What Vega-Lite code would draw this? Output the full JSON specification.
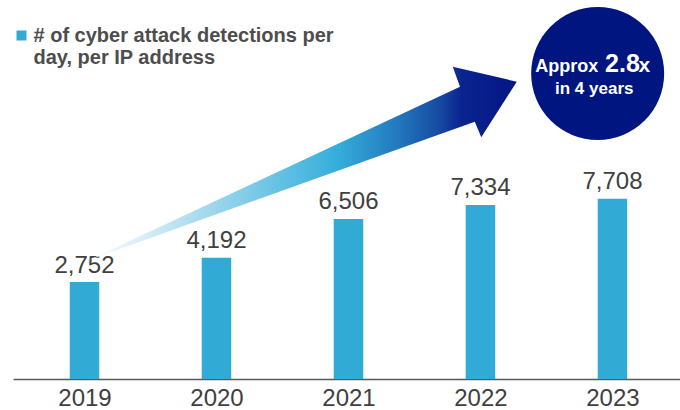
{
  "$schema": "https://vega.github.io/schema/vega-lite/v6.json",
  "width": 667,
  "height": 379,
  "autosize": {"type": "none"},
  "padding": {"left": 13, "top": 0, "right": 0, "bottom": 31},
  "background": "white",
  "config": {"view": {"stroke": null}, "font": "Liberation Sans"},
  "datasets": {
    "bars": [
      {"year": 2019, "value": 2752, "series": "# of cyber attack detections per day, per IP address"},
      {"year": 2020, "value": 4192, "series": "# of cyber attack detections per day, per IP address"},
      {"year": 2021, "value": 6506, "series": "# of cyber attack detections per day, per IP address"},
      {"year": 2022, "value": 7334, "series": "# of cyber attack detections per day, per IP address"},
      {"year": 2023, "value": 7708, "series": "# of cyber attack detections per day, per IP address"}
    ],
    "arrow": [
      {"i": 1, "year": 2019.034, "value": 4065},
      {"i": 2, "year": 2021.845, "value": 14354},
      {"i": 3, "year": 2021.790, "value": 15541},
      {"i": 4, "year": 2022.275, "value": 14651},
      {"i": 5, "year": 2022.006, "value": 11350},
      {"i": 6, "year": 2021.957, "value": 12276}
    ],
    "badge": [{"year": 2022.888, "value": 15137}],
    "badgeText": [
      {"t": "Approx", "year": 2022.892, "value": 15197},
      {"t": "2.8", "year": 2022.944, "value": 15197},
      {"t": "x", "year": 2023.198, "value": 15197},
      {"t": "in 4 years", "year": 2022.862, "value": 13920}
    ]
  },
  "encoding": {
    "x": {
      "field": "year", "type": "quantitative",
      "scale": {"domain": [2018.4963, 2023.4739], "nice": false, "zero": false},
      "axis": {
        "title": null, "values": [2019, 2020, 2021, 2022, 2023], "format": "d",
        "labelAngle": 0, "ticks": false, "tickSize": 0, "grid": false,
        "labelPadding": 7, "labelFontSize": 24, "labelFont": "Liberation Sans",
        "labelColor": "#404040", "domainColor": "#595959", "domainWidth": 1.5,
        "labelFlush": false, "labelOverlap": false
      }
    },
    "y": {
      "field": "value", "type": "quantitative",
      "scale": {"domain": [-3000, 19500], "nice": false, "zero": false},
      "axis": null
    }
  },
  "layer": [
    {
      "data": {"name": "bars"},
      "mark": {"type": "bar", "width": 29.5},
      "encoding": {
        "y2": {"datum": -3000},
        "color": {
          "field": "series", "type": "nominal",
          "scale": {"range": ["#31abd6"]},
          "legend": {
            "orient": "none", "legendX": -1.5, "legendY": 25.5, "title": null,
            "symbolType": "square", "symbolSize": 100, "symbolStrokeWidth": 0,
            "labelFont": "Liberation Sans", "labelFontSize": 20, "labelFontWeight": "bold",
            "labelColor": "#4d4d4d", "labelLimit": 600, "labelOffset": 2,
            "labelBaseline": "middle", "padding": 0,
            "labelExpr": "[substring(datum.label, 0, 32), substring(datum.label, 33)]",
            "encode": {"labels": {"lineHeight": {"value": 24}}}
          }
        }
      }
    },
    {
      "data": {"name": "bars"},
      "mark": {"type": "text", "baseline": "alphabetic", "dy": -9.5, "fontSize": 24, "color": "#404040", "font": "Liberation Sans"},
      "encoding": {
        "text": {"field": "value", "type": "quantitative", "format": ","}
      }
    },
    {
      "data": {"name": "arrow"},
      "mark": {
        "type": "line", "interpolate": "linear-closed", "strokeWidth": 0,
        "fill": {
          "gradient": "linear", "x1": 0, "y1": 0, "x2": 1, "y2": 0,
          "stops": [
            {"offset": 0, "color": "#ffffff"},
            {"offset": 0.265, "color": "#a6daee"},
            {"offset": 0.58, "color": "#35aedb"},
            {"offset": 0.72, "color": "#2379be"},
            {"offset": 0.82, "color": "#164aa2"},
            {"offset": 0.87, "color": "#0a248f"},
            {"offset": 1, "color": "#021585"}
          ]
        }
      },
      "encoding": {
        "order": {"field": "i", "type": "quantitative"}
      }
    },
    {
      "data": {"name": "badge"},
      "mark": {"type": "point", "shape": "circle", "filled": true, "size": 17689, "color": "#00157f", "opacity": 1, "strokeWidth": 0}
    },
    {
      "data": {"name": "badgeText"},
      "transform": [{"filter": "datum.t === 'Approx'"}],
      "mark": {"type": "text", "baseline": "alphabetic", "align": "right", "fontSize": 18, "fontWeight": "bold", "color": "white", "font": "Liberation Sans"},
      "encoding": {"text": {"field": "t"}}
    },
    {
      "data": {"name": "badgeText"},
      "transform": [{"filter": "datum.t === '2.8'"}],
      "mark": {"type": "text", "baseline": "alphabetic", "align": "left", "fontSize": 25, "fontWeight": "bold", "color": "white", "font": "Liberation Sans"},
      "encoding": {"text": {"field": "t"}}
    },
    {
      "data": {"name": "badgeText"},
      "transform": [{"filter": "datum.t === 'x'"}],
      "mark": {"type": "text", "baseline": "alphabetic", "align": "left", "fontSize": 21, "fontWeight": "bold", "color": "white", "font": "Liberation Sans"},
      "encoding": {"text": {"field": "t"}}
    },
    {
      "data": {"name": "badgeText"},
      "transform": [{"filter": "datum.t === 'in 4 years'"}],
      "mark": {"type": "text", "baseline": "alphabetic", "align": "center", "fontSize": 17, "fontWeight": "bold", "color": "white", "font": "Liberation Sans"},
      "encoding": {"text": {"field": "t"}}
    }
  ]
}
